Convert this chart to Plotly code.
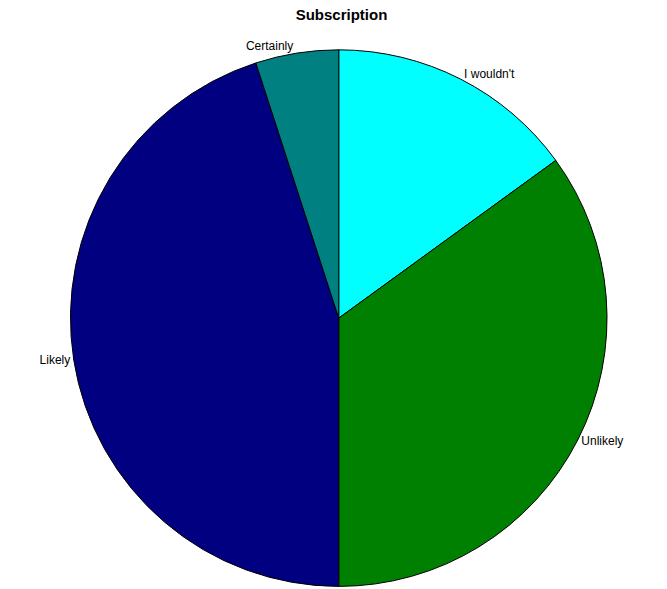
import plotly.graph_objs as go

labels = ["I wouldn't", "Unlikely", "Likely", "Certainly"]
values = [15, 35, 45, 5]
colors = ["#00FFFF", "#008000", "#000080", "#008080"]

fig = go.Figure(
    go.Pie(
        labels=labels,
        values=values,
        sort=False,
        direction="clockwise",
        rotation=0,
        marker=dict(colors=colors, line=dict(color="black", width=1)),
        textinfo="label",
        textposition="outside",
        textfont=dict(family="Liberation Sans, Arial", size=12, color="black"),
        hole=0,
        showlegend=False,
        domain=dict(x=[0.0, 0.91], y=[0.018, 0.929]),
    )
)

fig.update_layout(
    width=667,
    height=589,
    paper_bgcolor="white",
    plot_bgcolor="white",
    margin=dict(t=0, l=0, r=0, b=0),
    title=dict(
        text="<b>Subscription</b>",
        x=0.5, xanchor="center",
        y=1.0, yanchor="top",
        pad=dict(t=1),
        font=dict(family="Liberation Sans, Arial", size=15, color="black"),
    ),
)

fig.write_html("out.html")
